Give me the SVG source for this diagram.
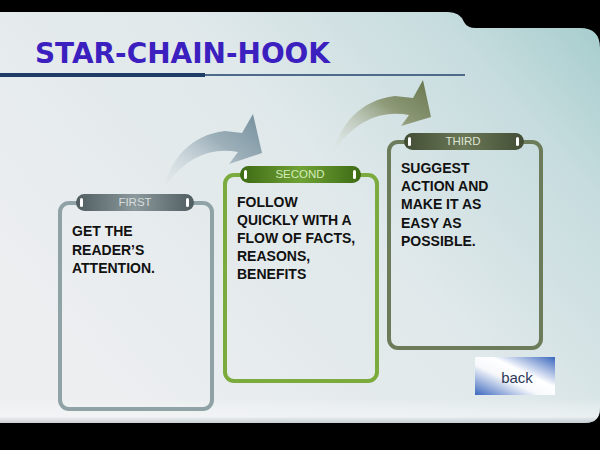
<svg xmlns="http://www.w3.org/2000/svg" width="600" height="450" viewBox="0 0 600 450">
<defs>
<linearGradient id="bg" x1="0" y1="0.6" x2="1" y2="0">
<stop offset="0" stop-color="#eceef0"/>
<stop offset="0.5" stop-color="#dfe8ea"/>
<stop offset="0.8" stop-color="#c6dcde"/>
<stop offset="1" stop-color="#a4cccc"/>
</linearGradient>
<linearGradient id="bshade" x1="0" y1="0" x2="0" y2="1">
<stop offset="0.94" stop-color="#ffffff" stop-opacity="0"/>
<stop offset="0.985" stop-color="#f4f6f8" stop-opacity="0.6"/>
<stop offset="1" stop-color="#aab2b8" stop-opacity="0.5"/>
</linearGradient>
<linearGradient id="pillGrey" x1="0" y1="0" x2="1" y2="0">
<stop offset="0" stop-color="#4f5d60"/>
<stop offset="0.5" stop-color="#8c999c"/>
<stop offset="1" stop-color="#4f5d60"/>
</linearGradient>
<linearGradient id="pillGreen" x1="0" y1="0" x2="1" y2="0">
<stop offset="0" stop-color="#3d6a14"/>
<stop offset="0.5" stop-color="#6fa235"/>
<stop offset="1" stop-color="#3d6a14"/>
</linearGradient>
<linearGradient id="pillOlive" x1="0" y1="0" x2="1" y2="0">
<stop offset="0" stop-color="#424d34"/>
<stop offset="0.5" stop-color="#6b7857"/>
<stop offset="1" stop-color="#424d34"/>
</linearGradient>
<linearGradient id="arrGrey" x1="0" y1="1" x2="1" y2="0">
<stop offset="0" stop-color="#dfe6ea" stop-opacity="0.2"/>
<stop offset="0.6" stop-color="#9db0ba"/>
<stop offset="1" stop-color="#748f9c"/>
</linearGradient>
<linearGradient id="arrOlive" x1="0" y1="1" x2="1" y2="0">
<stop offset="0" stop-color="#e2e8e4" stop-opacity="0.2"/>
<stop offset="0.6" stop-color="#8e9a78"/>
<stop offset="1" stop-color="#67754d"/>
</linearGradient>
<linearGradient id="btn" x1="1" y1="0" x2="0" y2="1">
<stop offset="0" stop-color="#3a66bd"/>
<stop offset="0.4" stop-color="#ffffff"/>
<stop offset="0.6" stop-color="#f6f8fb"/>
<stop offset="1" stop-color="#3c68be"/>
</linearGradient>
<style>
.box{fill:none;stroke-width:4}
.body{font-family:"Liberation Sans",Arial,sans-serif;font-weight:bold;font-size:14px;fill:#111111}
.pl{font-family:"Liberation Sans",Arial,sans-serif;font-size:11.5px;text-anchor:middle}
.mk{fill:#ffffff}
</style>
</defs>
<rect x="0" y="0" width="600" height="450" fill="#000000"/>
<path d="M0,12 L448,12 Q460,12 464,22 Q467,28 476,28 L580,28 Q600,28 600,48 L600,408 Q600,423 585,423 L0,423 Z" fill="url(#bg)"/>
<path d="M0,12 L448,12 Q460,12 464,22 Q467,28 476,28 L580,28 Q600,28 600,48 L600,408 Q600,423 585,423 L0,423 Z" fill="url(#bshade)"/>
<g id="title">
<text x="35" y="63" font-family="'DejaVu Sans',Verdana,sans-serif" font-weight="bold" font-size="27.5" fill="#3b20bf" textLength="295" lengthAdjust="spacingAndGlyphs">STAR-CHAIN-HOOK</text>
<rect x="0" y="73" width="205" height="4" fill="#1e3c66"/>
<rect x="205" y="74" width="260" height="2" fill="#4d6a8a"/>
</g>
<g id="connectors">
<path d="M163,190 C170,160 190,135 225,131 L242,133 L253,114 L262,153 L229,164 L238,152 C214,147 185,155 163,190 Z" fill="url(#arrGrey)"/>
<path d="M333,153 C340,125 360,100 395,96 L413,98 L423,80 L431,117 L401,126 L409,115 C385,110 355,118 333,153 Z" fill="url(#arrOlive)"/>
</g>
<g id="first">
<rect class="box" x="60" y="203" width="152" height="206" rx="9" stroke="#8fa2a6"/>
<rect x="76" y="194" width="118" height="17" rx="8.5" fill="url(#pillGrey)"/>
<rect class="mk" x="80" y="198" width="3" height="9" rx="1.5"/>
<rect class="mk" x="186" y="198" width="3" height="9" rx="1.5"/>
<text class="pl" x="135" y="206" fill="#d6dcde">FIRST</text>
<text class="body" x="72" y="236">GET THE</text>
<text class="body" x="72" y="255">READER’S</text>
<text class="body" x="72" y="273">ATTENTION.</text>
</g>
<g id="second">
<rect class="box" x="225" y="175" width="152" height="206" rx="9" stroke="#7aab3c"/>
<rect x="240" y="166" width="121" height="17" rx="8.5" fill="url(#pillGreen)"/>
<rect class="mk" x="244" y="170" width="3" height="9" rx="1.5"/>
<rect class="mk" x="353" y="170" width="3" height="9" rx="1.5"/>
<text class="pl" x="300" y="178" fill="#d4ecb8">SECOND</text>
<text class="body" x="237" y="207">FOLLOW</text>
<text class="body" x="237" y="225">QUICKLY WITH A</text>
<text class="body" x="237" y="243">FLOW OF FACTS,</text>
<text class="body" x="237" y="261">REASONS,</text>
<text class="body" x="237" y="279">BENEFITS</text>
</g>
<g id="third">
<rect class="box" x="389" y="142" width="152" height="206" rx="9" stroke="#6c7b59"/>
<rect x="404" y="133" width="120" height="17" rx="8.5" fill="url(#pillOlive)"/>
<rect class="mk" x="408" y="137" width="3" height="9" rx="1.5"/>
<rect class="mk" x="516" y="137" width="3" height="9" rx="1.5"/>
<text class="pl" x="463" y="145" fill="#dfe5d6">THIRD</text>
<text class="body" x="401" y="173">SUGGEST</text>
<text class="body" x="401" y="191">ACTION AND</text>
<text class="body" x="401" y="209">MAKE IT AS</text>
<text class="body" x="401" y="228">EASY AS</text>
<text class="body" x="401" y="246">POSSIBLE.</text>
</g>
<g id="back">
<rect x="475" y="357" width="80" height="38" fill="url(#btn)"/>
<text x="517" y="383" font-family="'Liberation Sans',Arial,sans-serif" font-size="15" fill="#2c3a58" text-anchor="middle">back</text>
</g>
</svg>
